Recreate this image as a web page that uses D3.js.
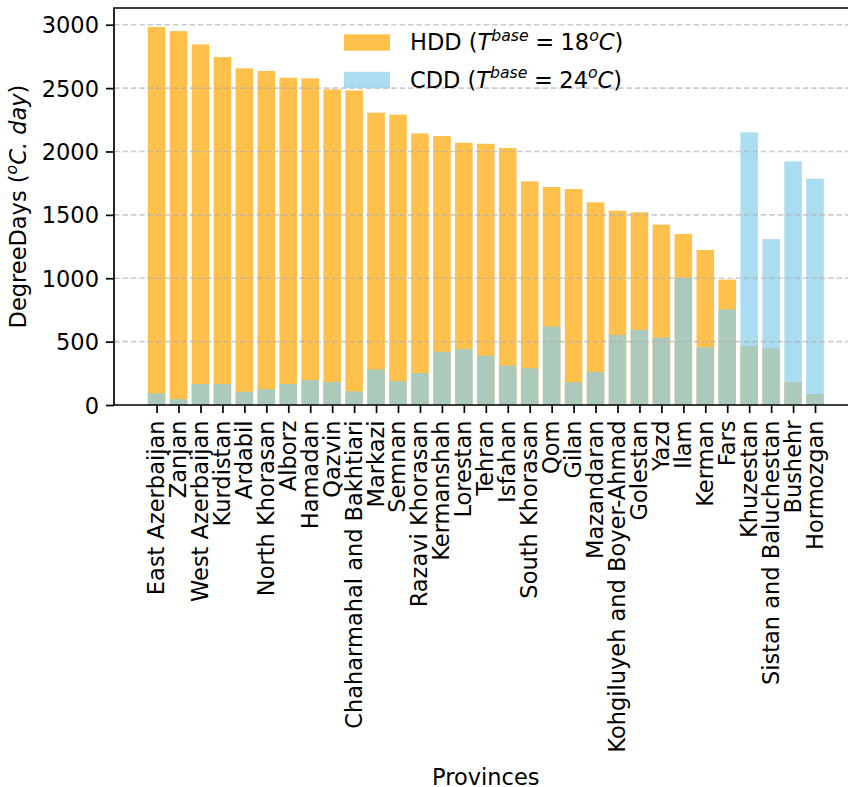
<!DOCTYPE html>
<html>
<head>
<meta charset="utf-8">
<script src="https://cdn.jsdelivr.net/npm/d3@7"></script>
<style>
    body { margin: 0; background: #fff; }
    svg { display: block; font-family: "DejaVu Sans", sans-serif; }
</style>
</head>
<body>
<div id="chart"></div>
<script>
// provinces, sorted by heating degree days
const provinces = [
    "East Azerbaijan", "Zanjan", "West Azerbaijan", "Kurdistan", "Ardabil",
    "North Khorasan", "Alborz", "Hamadan", "Qazvin", "Chaharmahal and Bakhtiari",
    "Markazi", "Semnan", "Razavi Khorasan", "Kermanshah", "Lorestan", "Tehran",
    "Isfahan", "South Khorasan", "Qom", "Gilan", "Mazandaran",
    "Kohgiluyeh and Boyer-Ahmad", "Golestan", "Yazd", "Ilam", "Kerman", "Fars",
    "Khuzestan", "Sistan and Baluchestan", "Bushehr", "Hormozgan"
];

const hdd = [2982, 2950, 2845, 2745, 2656, 2635, 2582, 2577, 2490, 2482, 2306, 2290,
    2143, 2122, 2069, 2061, 2027, 1764, 1720, 1704, 1599, 1533, 1520, 1423, 1349,
    1223, 989, 468, 447, 181, 87];

const cdd = [92, 47, 166, 166, 105, 126, 166, 197, 181, 108, 281, 189, 253, 421,
    443, 389, 311, 289, 619, 179, 261, 553, 593, 532, 1004, 456, 756, 2151, 1309,
    1922, 1785];

const yTicks = [0, 500, 1000, 1500, 2000, 2500, 3000];

const W = 848, H = 787;
const fs = 22.5;
const axLeft = 114, axTop = 8, axBottom = 405;

const svg = d3.select("#chart")
    .append("svg")
    .attr("width", W)
    .attr("height", H);

// matplotlib style limits: 5% margin around the bars
const xScale = d3.scaleLinear()
    .domain([-1.94, 31.94])
    .range([axLeft, 857.6]);

const yScale = d3.scaleLinear()
    .domain([0, 3132])
    .range([axBottom, axTop]);

const bw = xScale(0.8) - xScale(0);

// HDD bars first, CDD on top (overlap turns greenish)
svg.append("g")
    .selectAll("rect")
    .data(hdd)
    .enter()
    .append("rect")
    .attr("x", (d, i) => xScale(i - 0.4))
    .attr("y", d => yScale(d))
    .attr("width", bw)
    .attr("height", d => yScale(0) - yScale(d))
    .style("fill", "#FFA500")
    .style("fill-opacity", 0.7);

svg.append("g")
    .selectAll("rect")
    .data(cdd)
    .enter()
    .append("rect")
    .attr("x", (d, i) => xScale(i - 0.4))
    .attr("y", d => yScale(d))
    .attr("width", bw)
    .attr("height", d => yScale(0) - yScale(d))
    .style("fill", "#87CEEB")
    .style("fill-opacity", 0.7);

// dashed grid
svg.append("g")
    .selectAll("line")
    .data(yTicks.filter(d => d > 0))
    .enter()
    .append("line")
    .attr("x1", axLeft)
    .attr("x2", W)
    .attr("y1", d => yScale(d))
    .attr("y2", d => yScale(d))
    .style("stroke", "#b0b0b0")
    .style("stroke-opacity", 0.65)
    .style("stroke-width", 1.6)
    .style("stroke-dasharray", "5.6,2.8");

// axes
const yAxis = svg.append("g")
    .attr("transform", `translate(${axLeft},0)`)
    .call(d3.axisLeft(yScale).tickValues(yTicks).tickFormat(d3.format("d"))
        .tickSize(8).tickPadding(7).tickSizeOuter(0));

const xAxis = svg.append("g")
    .attr("transform", `translate(0,${axBottom})`)
    .call(d3.axisBottom(xScale).tickValues(d3.range(provinces.length)).tickSize(8).tickSizeOuter(0)
        .tickFormat(i => provinces[i]));

[yAxis, xAxis].forEach(a => {
    a.select(".domain").remove();
    a.selectAll(".tick line").style("stroke", "#000").style("stroke-width", 1.7);
    a.selectAll("text").style("font-size", fs + "px").style("fill", "#000")
        .style("font-family", "DejaVu Sans");
});

yAxis.selectAll("text").attr("dy", "0.36em");

xAxis.selectAll("text")
    .attr("transform", "translate(0,15.5) rotate(-90)")
    .attr("x", 0)
    .attr("y", 0)
    .attr("dy", "0.31em")
    .style("text-anchor", "end");

// spines (left, top, bottom; right one falls outside the picture)
svg.append("path")
    .attr("d", `M${W},${axTop}H${axLeft}V${axBottom}H${W}`)
    .style("fill", "none")
    .style("stroke", "#000")
    .style("stroke-width", 1.7);

// axis titles
svg.append("text")
    .attr("x", xScale(15))
    .attr("y", 784.5)
    .style("text-anchor", "middle")
    .style("font-size", fs + "px")
    .text("Provinces");

const yl = svg.append("text")
    .attr("transform", `translate(26,${(axTop + axBottom) / 2}) rotate(-90)`)
    .style("font-size", fs + "px");
yl.append("tspan").text("DegreeDays (");
yl.append("tspan").attr("dy", -9).style("font-size", "15.7px").style("font-style", "italic").text("o");
yl.append("tspan").attr("dy", 9).style("font-style", "italic").text("C. day");
yl.append("tspan").text(")");
// center the mixed-style label by its measured length
yl.attr("x", -yl.node().getComputedTextLength() / 2);

// legend
const legendItems = [
    { color: "#FFA500", label: "HDD", temp: "18", y: 42.5 },
    { color: "#87CEEB", label: "CDD", temp: "24", y: 80 }
];

const legend = svg.append("g");

legend.selectAll("rect")
    .data(legendItems)
    .enter()
    .append("rect")
    .attr("x", 344)
    .attr("y", d => d.y - 8.2)
    .attr("width", 46)
    .attr("height", 16.4)
    .style("fill", d => d.color)
    .style("fill-opacity", 0.7);

legendItems.forEach(d => {
    const t = legend.append("text")
        .attr("x", 410)
        .attr("y", d.y + 7.5)
        .style("font-size", fs + "px");
    t.append("tspan").text(d.label + " (");
    t.append("tspan").style("font-style", "italic").text("T");
    t.append("tspan").attr("dy", -9.5).style("font-size", "15.7px").style("font-style", "italic").text("base");
    t.append("tspan").attr("dy", 9.5).attr("dx", 6.5).text("=");
    t.append("tspan").attr("dx", 6.5).text(d.temp);
    t.append("tspan").attr("dy", -9.5).style("font-size", "15.7px").style("font-style", "italic").text("o");
    t.append("tspan").attr("dy", 9.5).style("font-style", "italic").text("C");
    t.append("tspan").text(")");
});
</script>
</body>
</html>
